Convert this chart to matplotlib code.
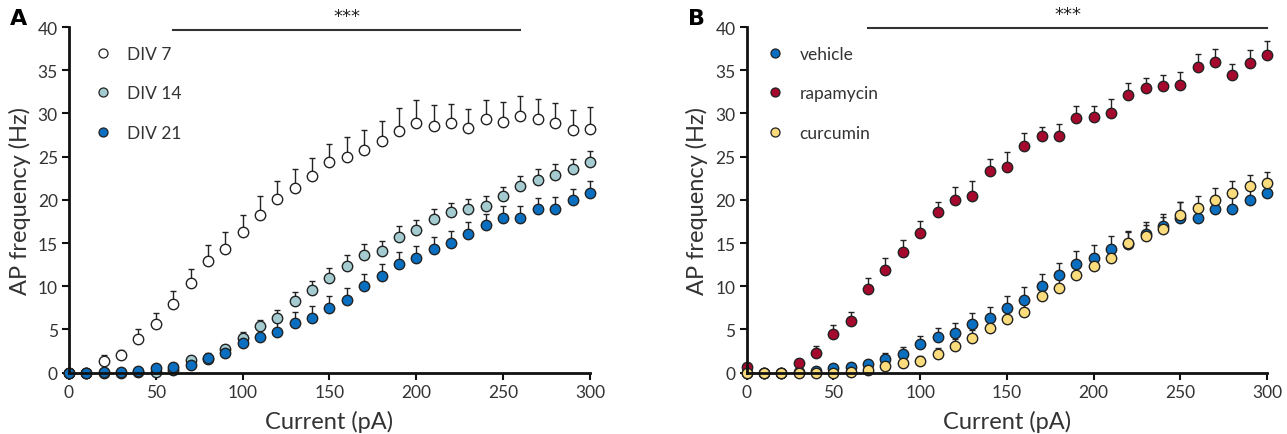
import numpy as np
import matplotlib
matplotlib.use('Agg')
import matplotlib.pyplot as plt
from matplotlib.lines import Line2D

plt.rcParams['font.family'] = ['Lato', 'DejaVu Sans']

current = np.arange(0, 301, 10)

# panel A, days in vitro
div7 = [0, 0, 1.3, 2.05, 3.9, 5.6, 7.95, 10.35, 12.97, 14.3, 16.25, 18.3, 20.05, 21.4, 22.8, 24.4,
        25.0, 25.8, 26.8, 28.0, 28.9, 28.5, 28.9, 28.3, 29.4, 29.05, 29.75, 29.3, 28.9, 28.1, 28.2]
div7_err = [0, 0, 0.7, 0.6, 1.1, 1.3, 1.55, 1.65, 1.8, 1.95, 2.0, 2.2, 2.1, 2.2, 2.0, 2.1,
            2.3, 2.3, 2.3, 2.6, 2.6, 2.5, 2.15, 2.2, 2.1, 2.25, 2.25, 2.4, 2.3, 2.3, 2.5]
div14 = [0, 0, 0, 0, 0.05, 0.1, 0.3, 1.5, 1.6, 2.74, 4.0, 5.45, 6.3, 8.35, 9.6, 11.0,
         12.4, 13.66, 14.05, 15.74, 16.55, 17.75, 18.56, 18.95, 19.3, 20.4, 21.65, 22.34, 22.9, 23.6, 24.35]
div14_err = [0, 0, 0, 0, 0.1, 0.2, 0.3, 0.4, 0.5, 0.5, 0.7, 0.7, 0.9, 0.95, 1.05, 1.1,
             1.2, 1.2, 1.2, 1.2, 1.15, 1.15, 1.05, 1.1, 1.2, 1.1, 1.15, 1.2, 1.2, 1.1, 1.3]
div21 = [0, 0, 0.05, 0.05, 0.2, 0.54, 0.7, 0.93, 1.66, 2.24, 3.4, 4.17, 4.71, 5.7, 6.33, 7.49,
         8.45, 10.07, 11.23, 12.54, 13.27, 14.3, 14.97, 16.05, 17.1, 17.87, 17.87, 18.95, 18.98, 20.0, 20.76]
div21_err = [0, 0, 0, 0, 0.1, 0.3, 0.4, 0.5, 0.6, 0.7, 0.9, 1.0, 1.1, 1.3, 1.35, 1.4,
             1.4, 1.35, 1.4, 1.45, 1.4, 1.45, 1.4, 1.35, 1.27, 1.4, 1.4, 1.3, 1.4, 1.3, 1.4]

# panel B, treatments
vehicle = [0, 0, 0, 0.05, 0.2, 0.55, 0.65, 0.95, 1.64, 2.22, 3.35, 4.12, 4.6, 5.65, 6.3, 7.47,
           8.43, 10.02, 11.25, 12.53, 13.3, 14.35, 14.9, 16.0, 17.0, 17.9, 17.95, 18.9, 19.0, 20.0, 20.8]
vehicle_err = [0, 0, 0, 0, 0.1, 0.3, 0.4, 0.5, 0.6, 0.7, 0.9, 1.0, 1.1, 1.3, 1.35, 1.45,
               1.45, 1.43, 1.45, 1.5, 1.43, 1.45, 1.5, 1.45, 1.4, 1.8, 1.4, 1.3, 1.4, 1.3, 1.4]
rapamycin = [0.62, 0, 0, 1.13, 2.29, 4.49, 6.03, 9.71, 11.83, 13.97, 16.17, 18.6, 20.0, 20.5, 23.3, 23.8,
             26.2, 27.4, 27.4, 29.5, 29.55, 30.0, 32.1, 32.9, 33.2, 33.3, 35.4, 35.9, 34.4, 35.8, 36.8]
rapamycin_err = [0.3, 0, 0, 0.45, 0.8, 1.0, 1.05, 1.3, 1.5, 1.35, 1.4, 1.2, 1.45, 1.65, 1.45, 1.7,
                 1.5, 1.05, 1.4, 1.4, 1.35, 1.67, 1.4, 1.2, 1.2, 1.47, 1.5, 1.6, 1.3, 1.5, 1.6]
curcumin = [0, 0, 0, 0, 0, 0, 0.13, 0.3, 0.74, 1.1, 1.38, 2.2, 3.05, 4.05, 5.23, 6.2,
            7.0, 8.93, 9.83, 11.33, 12.3, 13.27, 15.0, 15.8, 16.67, 18.25, 19.05, 20.0, 20.8, 21.6, 22.0]
curcumin_err = [0, 0, 0, 0, 0, 0, 0.2, 0.3, 0.4, 0.5, 0.6, 0.7, 0.8, 0.9, 1.0, 1.1,
                1.2, 1.3, 1.3, 1.4, 1.4, 1.4, 1.3, 1.3, 1.3, 1.45, 1.4, 1.4, 1.35, 1.25, 1.25]

groups_a = [('DIV 7', div7, div7_err, 'white'),
            ('DIV 14', div14, div14_err, '#a3cbd0'),
            ('DIV 21', div21, div21_err, '#0a6fc0')]
groups_b = [('vehicle', vehicle, vehicle_err, '#0a6fc0'),
            ('rapamycin', rapamycin, rapamycin_err, '#a6092e'),
            ('curcumin', curcumin, curcumin_err, '#fbdc7c')]

fig = plt.figure(figsize=(12.87, 4.35), dpi=100)
ax_a = fig.add_axes([0.0536, 0.1409, 0.4048, 0.7947])
ax_b = fig.add_axes([0.5802, 0.1409, 0.4043, 0.7947])


def draw_panel(ax, groups, sig_range, sig_y, letter, leg_x):
    handles = []
    for name, vals, err, col in groups:
        vals = np.array(vals)
        err = np.array(err)
        eb = ax.errorbar(current, vals, yerr=[np.zeros_like(err), err], fmt='o', ms=7.5,
                         mfc=col, mec='#222222', mew=1.0, ecolor='#222222', elinewidth=1.0,
                         capsize=2, capthick=1.0, clip_on=False)
        for art in eb.lines[1] + eb.lines[2]:
            art.set_clip_on(False)
        handles.append(Line2D([], [], ls='none', marker='o', ms=6.5, mfc=col,
                              mec='#222222', mew=0.9, label=name))

    ax.set_xlim(0, 300)
    ax.set_ylim(0, 40)
    ax.set_xticks(np.arange(0, 301, 50))
    ax.set_yticks(np.arange(0, 41, 5))
    for s in ['top', 'right']:
        ax.spines[s].set_visible(False)
    for s in ['left', 'bottom']:
        ax.spines[s].set_linewidth(2)
        ax.spines[s].set_color('#111111')
    ax.tick_params(direction='out', length=5, width=1.5, labelsize=12.5, colors='#111111',
                   labelcolor='#333333', pad=3)
    ax.set_xlabel('Current (pA)', fontsize=17, color='#333333', labelpad=7)
    ax.set_ylabel('AP frequency (Hz)', fontsize=17, color='#333333', labelpad=5)

    ax.plot(sig_range, [sig_y, sig_y], color='#333333', lw=1.5, clip_on=False)
    ax.text(np.mean(sig_range), sig_y + 0.6, '***', ha='center', va='bottom', fontsize=13,
            color='#222222', family='DejaVu Sans')

    leg = ax.legend(handles=handles, loc='upper left', bbox_to_anchor=(leg_x, 0.965), frameon=False,
                    fontsize=12.5, handlelength=1.0, handletextpad=0.9, labelspacing=1.35,
                    borderaxespad=0)
    for t in leg.get_texts():
        t.set_color('#333333')
    ax.text(-0.113, 1.025, letter, transform=ax.transAxes, fontsize=16, fontweight='bold',
            ha='left', va='center', family='DejaVu Sans')


draw_panel(ax_a, groups_a, [60, 260], 39.6, 'A', 0.035)
draw_panel(ax_b, groups_b, [70, 300], 39.9, 'B', 0.025)

fig.savefig('out.png', dpi=100)
